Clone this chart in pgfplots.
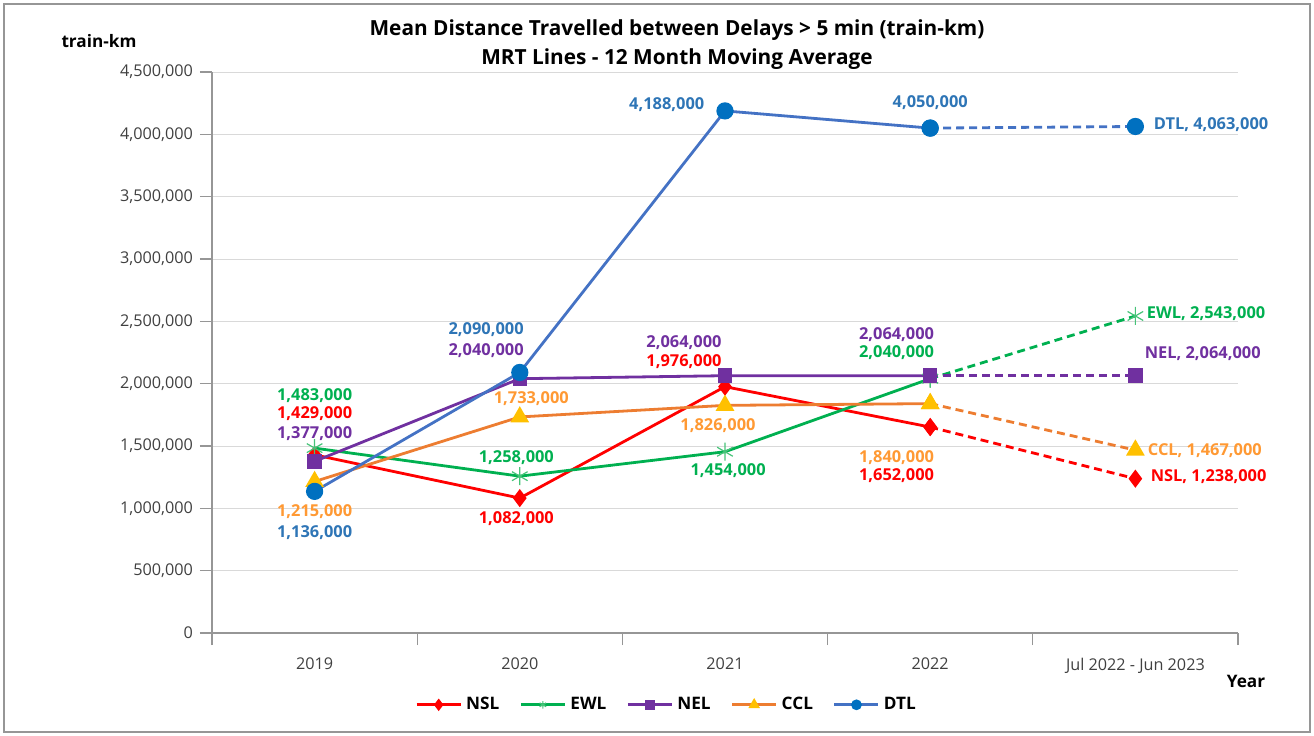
\documentclass[border=0pt]{standalone}
\usepackage{pgfplots}
\pgfplotsset{compat=1.18}
\usepackage{fontspec}
\setmainfont{Open Sans}
\definecolor{nslc}{RGB}{255,0,0}
\definecolor{ewlc}{RGB}{0,176,80}
\definecolor{ewlm}{RGB}{70,195,120}
\definecolor{nelc}{RGB}{112,48,160}
\definecolor{cclc}{RGB}{237,125,49}
\definecolor{cclm}{RGB}{255,192,0}
\definecolor{ccll}{RGB}{255,153,51}
\definecolor{dtlc}{RGB}{68,114,196}
\definecolor{dtlm}{RGB}{0,112,192}
\definecolor{dtll}{RGB}{46,117,182}
\definecolor{gridc}{RGB}{217,217,217}
\definecolor{axc}{RGB}{150,150,150}
\definecolor{tickc}{RGB}{64,64,64}
\begin{document}
\begin{tikzpicture}[lbl/.style={font=\bfseries\fontsize{8.2}{9}\selectfont}]
\begin{scope}[x=0.5pt,y=0.5pt]
\useasboundingbox (0,0) rectangle (1314,735);
\draw[draw=axc, line width=0.7pt] (4,3) rectangle (1310,731);
\node[font=\bfseries\fontsize{10.4}{12}\selectfont] at (677,705) {Mean Distance Travelled between Delays > 5 min (train-km)};
\node[font=\bfseries\fontsize{10.4}{12}\selectfont] at (677,676) {MRT Lines - 12 Month Moving Average};
\node[font=\bfseries\fontsize{8.6}{10}\selectfont] at (99,694) {train-km};
\node[font=\bfseries\fontsize{8.6}{10}\selectfont] at (1246,54) {Year};
\end{scope}
\begin{axis}[
  at={(106pt,51pt)}, anchor=south west,
  scale only axis, width=513pt, height=280.5pt,
  xmin=-0.5, xmax=4.5, ymin=0, ymax=4500000,
  clip=false,
  axis x line=bottom, axis y line=left,
  axis line style={-, draw=axc, line width=0.6pt},
  xtick={-0.5,0.5,1.5,2.5,3.5,4.5},
  x tick label as interval,
  xticklabels={2019,2020,2021,2022,Jul 2022 - Jun 2023},
  ytick={0,500000,...,4500000},
  scaled y ticks=false,
  yticklabel style={/pgf/number format/.cd, fixed, precision=0, 1000 sep={,}, assume math mode=true},
  /pgf/number format/assume math mode=true,
  ymajorgrids, grid style={gridc, line width=0.5pt},
  tick style={axc, line width=0.6pt},
  major tick length=6pt,
  tick align=outside,
  ticklabel style={font=\fontsize{8.1}{9}\selectfont, text=tickc},
  xticklabel style={yshift=-3pt},
  legend style={at={(0.444,-0.128)}, anchor=center, draw=none, fill=none,
    legend columns=-1, font=\bfseries\fontsize{8.6}{10}\selectfont,
    /tikz/every even column/.append style={column sep=8pt}},
  legend cell align=left,
  legend image code/.code={\draw[mark repeat=2, mark phase=2, line width=1.5pt, mark size=1.9pt] plot coordinates {(0pt,0pt) (11pt,0pt) (22pt,0pt)};},
]
% NSL
\addplot[nslc, line width=1.4pt, mark=diamond*, mark size=3.4pt, mark options={solid, fill=nslc}] coordinates {(0,1429000)(1,1082000)(2,1976000)(3,1652000)};
\addlegendentry{NSL}
% EWL
\addplot[ewlc, line width=1.4pt, mark=asterisk, mark size=4.5pt, mark options={solid, draw=ewlm, line width=0.6pt}] coordinates {(0,1483000)(1,1258000)(2,1454000)(3,2040000)};
\addlegendentry{EWL}
% NEL
\addplot[nelc, line width=1.4pt, mark=square*, mark size=2.9pt, mark options={solid, fill=nelc}] coordinates {(0,1377000)(1,2040000)(2,2064000)(3,2064000)};
\addlegendentry{NEL}
% CCL
\addplot[cclc, line width=1.4pt, mark=triangle*, mark size=4pt, mark options={solid, fill=cclm, draw=cclm}] coordinates {(0,1215000)(1,1733000)(2,1826000)(3,1840000)};
\addlegendentry{CCL}
% DTL
\addplot[dtlc, line width=1.4pt, mark=*, mark size=3.6pt, mark options={solid, fill=dtlm, draw=dtlm}] coordinates {(0,1136000)(1,2090000)(2,4188000)(3,4050000)};
\addlegendentry{DTL}
% dashed projections
\addplot[forget plot, nslc, line width=1.4pt, dash pattern=on 4pt off 2.5pt, mark=diamond*, mark size=3.4pt, mark options={solid, fill=nslc}] coordinates {(3,1652000)(4,1238000)};
\addplot[forget plot, ewlc, line width=1.4pt, dash pattern=on 4pt off 2.5pt, mark=asterisk, mark size=4.5pt, mark options={solid, draw=ewlm, line width=0.6pt}] coordinates {(3,2040000)(4,2543000)};
\addplot[forget plot, nelc, line width=1.4pt, dash pattern=on 4pt off 2.5pt, mark=square*, mark size=2.9pt, mark options={solid, fill=nelc}] coordinates {(3,2064000)(4,2064000)};
\addplot[forget plot, cclc, line width=1.4pt, dash pattern=on 4pt off 2.5pt, mark=triangle*, mark size=4pt, mark options={solid, fill=cclm, draw=cclm}] coordinates {(3,1840000)(4,1467000)};
\addplot[forget plot, dtlc, line width=1.4pt, dash pattern=on 4pt off 2.5pt, mark=*, mark size=3.6pt, mark options={solid, fill=dtlm, draw=dtlm}] coordinates {(3,4050000)(4,4063000)};
% labels 2019
\node[lbl, text=ewlc] at (axis cs:0,1901000) {1,483,000};
\node[lbl, text=nslc] at (axis cs:0,1757000) {1,429,000};
\node[lbl, text=nelc] at (axis cs:0,1596000) {1,377,000};
\node[lbl, text=ccll] at (axis cs:0,971000) {1,215,000};
\node[lbl, text=dtll] at (axis cs:0,802000) {1,136,000};
% 2020
\node[lbl, text=dtll] at (axis cs:0.836,2430000) {2,090,000};
\node[lbl, text=nelc] at (axis cs:0.836,2262000) {2,040,000};
\node[lbl, text=ccll] at (axis cs:1.056,1877000) {1,733,000};
\node[lbl, text=ewlc] at (axis cs:0.983,1404000) {1,258,000};
\node[lbl, text=nslc] at (axis cs:0.983,914000) {1,082,000};
% 2021
\node[lbl, text=dtll] at (axis cs:1.716,4235000) {4,188,000};
\node[lbl, text=nelc] at (axis cs:1.800,2326000) {2,064,000};
\node[lbl, text=nslc] at (axis cs:1.800,2174000) {1,976,000};
\node[lbl, text=ccll] at (axis cs:1.966,1660000) {1,826,000};
\node[lbl, text=ewlc] at (axis cs:2.015,1299000) {1,454,000};
% 2022
\node[lbl, text=dtll] at (axis cs:3.0,4251000) {4,050,000};
\node[lbl, text=nelc] at (axis cs:2.836,2390000) {2,064,000};
\node[lbl, text=ewlc] at (axis cs:2.836,2246000) {2,040,000};
\node[lbl, text=ccll] at (axis cs:2.836,1404000) {1,840,000};
\node[lbl, text=nslc] at (axis cs:2.836,1259000) {1,652,000};
% 2023
\node[lbl, text=dtll, anchor=west, inner sep=0pt] at (axis cs:4.088,4075000) {DTL, 4,063,000};
\node[lbl, text=ewlc, anchor=west, inner sep=0pt] at (axis cs:4.054,2559000) {EWL, 2,543,000};
\node[lbl, text=nelc, anchor=west, inner sep=0pt] at (axis cs:4.044,2238000) {NEL, 2,064,000};
\node[lbl, text=ccll, anchor=west, inner sep=0pt] at (axis cs:4.059,1460000) {CCL, 1,467,000};
\node[lbl, text=nslc, anchor=west, inner sep=0pt] at (axis cs:4.073,1251000) {NSL, 1,238,000};
\end{axis}
\end{tikzpicture}
\end{document}
